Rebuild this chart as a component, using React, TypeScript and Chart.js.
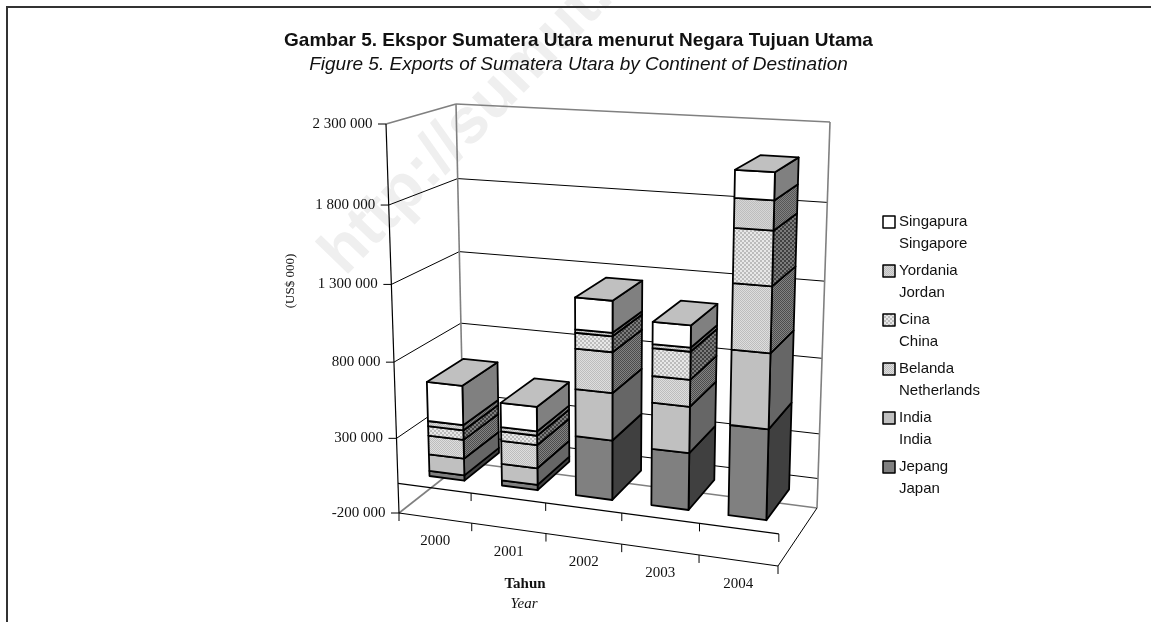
import React, { useEffect, useRef } from "react";
import { Chart, registerables } from "chart.js";

Chart.register(...registerables);

const years = ["2000", "2001", "2002", "2003", "2004"];
const namesId = ["Jepang", "India", "Belanda", "Cina", "Yordania", "Singapura"];
const namesEn = ["Japan", "India", "Netherlands", "China", "Jordan", "Singapore"];

const japan = [35000, 35000, 386000, 363000, 570000];
const india = [112000, 110000, 303000, 293000, 466000];
const netherlands = [126000, 152000, 259000, 168000, 404000];
const china = [63000, 62000, 100000, 175000, 331000];
const jordan = [35000, 28000, 22000, 25000, 178000];
const singapore = [260000, 160000, 200000, 137000, 165000];
const seriesValues = [japan, india, netherlands, china, jordan, singapore];

const yTickValues = [-200000, 300000, 800000, 1300000, 1800000, 2300000];

const titleId = "Gambar 5. Ekspor Sumatera Utara menurut Negara Tujuan Utama";
const titleEn = "Figure 5. Exports of Sumatera Utara by Continent of Destination";
const yTitle = "(US$ 000)";
const xTitleId = "Tahun";
const xTitleEn = "Year";
const watermark = "http://sumut.bps.go.id";

const fmt = (v: number) => {
  const s = String(Math.abs(v)).replace(/\B(?=(\d{3})+(?!\d))/g, " ");
  return (v < 0 ? "-" : "") + s;
};

type Pt = [number, number];
const C = {
  fbl: [399, 513] as Pt, fbr: [778, 566] as Pt, bbl: [464, 462] as Pt, bbr: [817, 508] as Pt,
  ftl: [386, 124] as Pt, ftr: [789, 146] as Pt, btl: [456, 104] as Pt, btr: [830, 122] as Pt,
};
const WARP = 0.95;
const warp = (t: number) => (t * WARP) / (1 + (WARP - 1) * t);
const lerp = (a: Pt, b: Pt, t: number): Pt => [a[0] + (b[0] - a[0]) * t, a[1] + (b[1] - a[1]) * t];

const proj3 = (u: number, v: number, w: number): Pt => {
  const uu = warp(u), vv = warp(v);
  const bottom = lerp(lerp(C.fbl, C.fbr, uu), lerp(C.bbl, C.bbr, uu), w);
  const top = lerp(lerp(C.ftl, C.ftr, uu), lerp(C.btl, C.btr, uu), w);
  return lerp(bottom, top, vv);
};

const makePattern = (ctx: CanvasRenderingContext2D, a: string, b: string, cell: number) => {
  const c = document.createElement("canvas");
  c.width = c.height = cell * 2;
  const g = c.getContext("2d")!;
  g.fillStyle = a;
  g.fillRect(0, 0, cell * 2, cell * 2);
  g.fillStyle = b;
  g.fillRect(0, 0, cell, cell);
  g.fillRect(cell, cell, cell, cell);
  return ctx.createPattern(c, "repeat")!;
};

const line = (ctx: CanvasRenderingContext2D, a: Pt, b: Pt, color: string, width = 1) => {
  ctx.strokeStyle = color;
  ctx.lineWidth = width;
  ctx.beginPath();
  ctx.moveTo(a[0], a[1]);
  ctx.lineTo(b[0], b[1]);
  ctx.stroke();
};

const face = (ctx: CanvasRenderingContext2D, pts: Pt[], fill: any) => {
  ctx.beginPath();
  pts.forEach((p, i) => (i ? ctx.lineTo(p[0], p[1]) : ctx.moveTo(p[0], p[1])));
  ctx.closePath();
  ctx.fillStyle = fill;
  ctx.fill();
  ctx.strokeStyle = "#000";
  ctx.lineWidth = 1.8;
  ctx.lineJoin = "round";
  ctx.stroke();
};

const text = (ctx: CanvasRenderingContext2D, s: string, x: number, y: number, font: string, align: CanvasTextAlign = "center", color = "#111") => {
  ctx.font = font;
  ctx.textAlign = align;
  ctx.textBaseline = "middle";
  ctx.fillStyle = color;
  ctx.fillText(s, x, y);
};

const DEPTH_FRONT = 0.2;
const DEPTH_BACK = 0.76;
const SERIF = '"Liberation Serif"';
const SANS = '"Liberation Sans"';

const scene = {
  id: "scene3d",
  beforeDraw(chart: any) {
    const { ctx, width, height } = chart;
    ctx.save();
    ctx.fillStyle = "#fff";
    ctx.fillRect(0, 0, width, height);
    ctx.translate(345, 277);
    ctx.rotate(-0.8);
    ctx.font = `bold 64px ${SANS}`;
    ctx.fillStyle = "#efefef";
    ctx.textAlign = "left";
    ctx.textBaseline = "alphabetic";
    ctx.fillText(watermark, 0, 0);
    ctx.restore();
    ctx.save();
    ctx.fillStyle = "#333";
    ctx.fillRect(6, 6, width - 6, 2);
    ctx.fillRect(6, 6, 2, height - 6);
    ctx.restore();
  },
  beforeDatasetsDraw(chart: any) {
    const { ctx, chartArea: a, scales } = chart;
    const vOf = (val: number) => (a.bottom - scales.y.getPixelForValue(val)) / a.height;
    const uOf = (i: number) => (scales.x.getPixelForValue(i) - a.left) / a.width;
    const GRAY = "#808080";
    ctx.save();
    yTickValues.forEach((val) => {
      const v = vOf(val);
      const edge = val === yTickValues[0] || val === yTickValues[yTickValues.length - 1];
      const col = edge ? GRAY : "#000";
      line(ctx, proj3(0, v, 0), proj3(0, v, 1), col, edge ? 1.6 : 1);
      line(ctx, proj3(0, v, 1), proj3(1, v, 1), col, edge ? 1.6 : 1);
    });
    const v0 = vOf(0);
    line(ctx, proj3(0, v0, 1), proj3(1, v0, 1), "#000");
    line(ctx, proj3(0, 0, 1), proj3(0, 1, 1), GRAY, 1.6);
    line(ctx, proj3(1, 0, 1), proj3(1, 1, 1), GRAY, 1.6);
    line(ctx, proj3(0, v0, 0), proj3(1, v0, 0), "#000", 1.2);
    line(ctx, proj3(0, 0, 0), proj3(1, 0, 0), "#000", 1.2);
    line(ctx, proj3(1, 0, 0), proj3(1, 0, 1), "#000");
    const tickU = years.map((_, i) => uOf(i) - 0.5 * (uOf(1) - uOf(0))).concat([1]);
    tickU.forEach((u, i) => {
      if (i === 0) {
        const b = proj3(0, 0, 0);
        line(ctx, b, [b[0], b[1] + 8], "#000");
        return;
      }
      [v0, 0].forEach((v) => {
        const p = proj3(u, v, 0);
        line(ctx, p, [p[0], p[1] + 8], "#000");
      });
    });
    ctx.restore();
  },
  beforeDatasetDraw() {
    return false;
  },
  afterDatasetsDraw(chart: any) {
    const { ctx, chartArea: a, scales } = chart;
    const P = (px: number, py: number, w: number) => proj3((px - a.left) / a.width, (a.bottom - py) / a.height, w);
    ctx.save();
    const n = years.length;
    const m = seriesValues.length;
    for (let j = 0; j < n; j++) {
      for (let i = 0; i < m; i++) {
        const el = chart.getDatasetMeta(i).data[j];
        const ds = chart.data.datasets[i];
        const x0 = el.x - el.width / 2, x1 = el.x + el.width / 2;
        const t = el.y, b = el.base;
        face(ctx, [P(x1, t, DEPTH_FRONT), P(x1, t, DEPTH_BACK), P(x1, b, DEPTH_BACK), P(x1, b, DEPTH_FRONT)], ds.sideFill);
        face(ctx, [P(x0, t, DEPTH_FRONT), P(x1, t, DEPTH_FRONT), P(x1, b, DEPTH_FRONT), P(x0, b, DEPTH_FRONT)], ds.backgroundColor);
        if (i === m - 1) {
          face(ctx, [P(x0, t, DEPTH_FRONT), P(x1, t, DEPTH_FRONT), P(x1, t, DEPTH_BACK), P(x0, t, DEPTH_BACK)], "#c0c0c0");
        }
      }
    }
    const vOf = (val: number) => (a.bottom - scales.y.getPixelForValue(val)) / a.height;
    line(ctx, proj3(0, 0, 0), proj3(0, 1, 0), "#000", 1.2);
    yTickValues.forEach((val) => {
      const p = proj3(0, vOf(val), 0);
      line(ctx, [p[0] - 8, p[1]], p, "#000");
      text(ctx, fmt(val), p[0] - 13.5, p[1], `15px ${SERIF}`, "right");
    });
    years.forEach((y, i) => {
      const p = proj3((scales.x.getPixelForValue(i) - a.left) / a.width, 0, 0);
      text(ctx, y, p[0], p[1] + 23.5, `15px ${SERIF}`);
    });
    text(ctx, xTitleId, 525, 584, `bold 15px ${SERIF}`);
    text(ctx, xTitleEn, 524, 604, `italic 15px ${SERIF}`);
    ctx.save();
    ctx.translate(291, 281);
    ctx.rotate(-Math.PI / 2);
    text(ctx, yTitle, 0, 0, `13px ${SERIF}`);
    ctx.restore();
    const rowY = [467, 418, 369, 320, 271, 222];
    chart.data.datasets.forEach((ds: any, i: number) => {
      const y = rowY[i];
      ctx.fillStyle = ds.backgroundColor;
      ctx.fillRect(883, y - 6, 12, 12);
      ctx.strokeStyle = "#000";
      ctx.lineWidth = 1.5;
      ctx.strokeRect(883, y - 6, 12, 12);
      text(ctx, namesId[i], 899, y, `15px ${SANS}`, "left");
      text(ctx, namesEn[i], 899, y + 21.5, `15px ${SANS}`, "left");
    });
    ctx.restore();
  },
};

export default function App() {
  const ref = useRef<HTMLCanvasElement>(null);
  useEffect(() => {
    const canvas = ref.current!;
    const ctx = canvas.getContext("2d")!;
    const fronts: any[] = [
      "#808080",
      "#c0c0c0",
      makePattern(ctx, "#dedede", "#bdbdbd", 1),
      makePattern(ctx, "#e8e8e8", "#bcbcbc", 2),
      makePattern(ctx, "#d6d6d6", "#bdbdbd", 1),
      "#ffffff",
    ];
    const sides: any[] = [
      "#404040",
      "#666666",
      makePattern(ctx, "#828282", "#4c4c4c", 1),
      makePattern(ctx, "#7c7c7c", "#404040", 2),
      makePattern(ctx, "#808080", "#565656", 1),
      "#808080",
    ];
    const chart = new Chart(canvas, {
      type: "bar",
      data: {
        labels: years,
        datasets: seriesValues.map((data, i) => ({
          label: `${namesId[i]} / ${namesEn[i]}`,
          data,
          backgroundColor: fronts[i],
          sideFill: sides[i],
          barPercentage: 0.485,
          categoryPercentage: 1,
        })) as any,
      },
      options: {
        responsive: false,
        animation: false,
        layout: { padding: { left: 6, right: 0, top: 0, bottom: 60 } },
        scales: {
          x: { stacked: true, display: false },
          y: {
            stacked: true,
            display: false,
            min: yTickValues[0],
            max: yTickValues[yTickValues.length - 1],
            afterBuildTicks: (s: any) => {
              s.ticks = yTickValues.map((value) => ({ value }));
            },
          },
        },
        plugins: {
          legend: { display: false },
          tooltip: { enabled: false },
          title: {
            display: true,
            text: titleId,
            color: "#111",
            font: { family: SANS, size: 19, weight: "bold" },
            padding: { top: 29, bottom: 2 },
          },
          subtitle: {
            display: true,
            text: titleEn,
            color: "#111",
            font: { family: SANS, size: 19, style: "italic" },
            padding: { top: 0, bottom: 20 },
          },
        },
      },
      plugins: [scene as any],
    });
    return () => chart.destroy();
  }, []);
  return (
    <div style={{ position: "absolute", left: 0, top: 0, width: 1151, height: 622, overflow: "hidden" }}>
      <canvas ref={ref} width={1151} height={622} style={{ display: "block" }} />
    </div>
  );
}
